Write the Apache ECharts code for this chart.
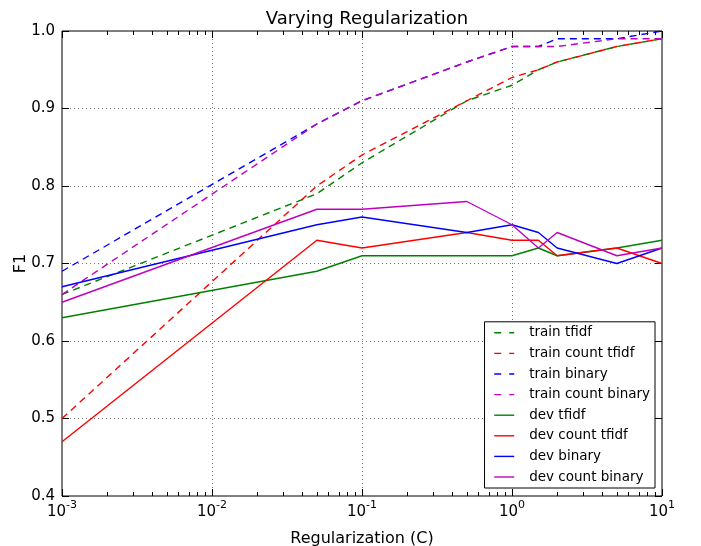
<!DOCTYPE html>
<html>
<head>
<meta charset="utf-8">
<script src="https://cdn.jsdelivr.net/npm/echarts@6/dist/echarts.min.js"></script>
<style>
  html, body { margin: 0; padding: 0; background: #fff; }
  #chart { width: 701px; height: 546px; }
</style>
</head>
<body>
<div id="chart"></div>
<script>
// regularization values (C) and F1 scores
var cValues = [0.001, 0.05, 0.1, 0.5, 1, 1.5, 2, 5, 10];

var trainTfidf       = [0.66, 0.79, 0.83, 0.91, 0.93, 0.95, 0.96, 0.98, 0.99];
var trainCountTfidf  = [0.50, 0.80, 0.84, 0.91, 0.94, 0.95, 0.96, 0.98, 0.99];
var trainBinary      = [0.69, 0.88, 0.91, 0.96, 0.98, 0.98, 0.99, 0.99, 1.00];
var trainCountBinary = [0.66, 0.88, 0.91, 0.96, 0.98, 0.98, 0.98, 0.99, 0.99];
var devTfidf         = [0.63, 0.69, 0.71, 0.71, 0.71, 0.72, 0.71, 0.72, 0.73];
var devCountTfidf    = [0.47, 0.73, 0.72, 0.74, 0.73, 0.73, 0.71, 0.72, 0.70];
var devBinary        = [0.67, 0.75, 0.76, 0.74, 0.75, 0.74, 0.72, 0.70, 0.72];
var devCountBinary   = [0.65, 0.77, 0.77, 0.78, 0.75, 0.72, 0.74, 0.71, 0.72];

var FONT = 'DejaVu Sans';
var DASH = [7, 5];

// minor ticks of the log axis (2..9 x 10^k), as exponents on a helper value axis
var minorExp = [];
for (var k = -3; k < 1; k++) {
  for (var m = 2; m < 10; m++) {
    minorExp.push(k + Math.log(m) / Math.LN10);
  }
}

function pairs(ys) {
  return cValues.map(function (c, i) { return [c, ys[i]]; });
}

function line(name, ys, color, dashed) {
  return {
    name: name,
    type: 'line',
    data: pairs(ys),
    symbol: 'none',
    xAxisIndex: 0,
    yAxisIndex: 0,
    lineStyle: { color: color, width: 1.4, type: dashed ? DASH : 'solid' },
    itemStyle: { color: color },
    animation: false
  };
}

function majorX(position) {
  return {
    type: 'log',
    logBase: 10,
    min: 0.001,
    max: 10,
    position: position,
    axisLine: { show: false, onZero: false },
    axisTick: { show: true, inside: true, length: 7, lineStyle: { color: '#000', width: 1 } },
    axisLabel: { show: false },
    splitLine: { show: false }
  };
}

function minorX(position) {
  return {
    type: 'value',
    min: -3,
    max: 1,
    position: position,
    axisLine: { show: false, onZero: false },
    axisTick: {
      show: true, inside: true, length: 4,
      customValues: minorExp,
      lineStyle: { color: '#000', width: 1 }
    },
    axisLabel: { show: false },
    splitLine: { show: false }
  };
}

var xMain = majorX('bottom');
xMain.name = 'Regularization (C)';
xMain.nameLocation = 'middle';
xMain.nameGap = 35;
xMain.nameTextStyle = { fontFamily: FONT, fontSize: 16, color: '#000' };
xMain.axisLabel = {
  show: true,
  margin: 4,
  formatter: function (v) {
    var e = Math.round(Math.log(v) / Math.LN10);
    return '{b|10}{sup|' + e + '}';
  },
  rich: {
    b: { fontFamily: FONT, fontSize: 15, color: '#000', lineHeight: 20, verticalAlign: 'bottom' },
    sup: { fontFamily: FONT, fontSize: 11, color: '#000', lineHeight: 20, verticalAlign: 'top' }
  }
};
xMain.splitLine = { show: true, lineStyle: { color: '#777', width: 1, type: [1, 3] } };

function yAxisBase(position) {
  return {
    type: 'value',
    min: 0.4,
    max: 1.0,
    interval: 0.1,
    position: position,
    axisLine: { show: false, onZero: false },
    axisTick: { show: true, inside: true, length: 7, lineStyle: { color: '#000', width: 1 } },
    axisLabel: { show: false },
    splitLine: { show: false }
  };
}

var yMain = yAxisBase('left');
yMain.name = 'F1';
yMain.nameLocation = 'middle';
yMain.nameGap = 33;
yMain.nameMoveOverlap = false;
yMain.nameTextStyle = { fontFamily: FONT, fontSize: 16, color: '#000' };
yMain.axisLabel = {
  show: true,
  margin: 7,
  fontFamily: FONT,
  fontSize: 15,
  color: '#000',
  formatter: function (v) { return v.toFixed(1); }
};
yMain.splitLine = { show: true, lineStyle: { color: '#777', width: 1, type: [1, 3] } };

var seriesDefs = [
  ['train tfidf', trainTfidf, '#008000', true],
  ['train count tfidf', trainCountTfidf, '#ff0000', true],
  ['train binary', trainBinary, '#0000ff', true],
  ['train count binary', trainCountBinary, '#bf00bf', true],
  ['dev tfidf', devTfidf, '#008000', false],
  ['dev count tfidf', devCountTfidf, '#ff0000', false],
  ['dev binary', devBinary, '#0000ff', false],
  ['dev count binary', devCountBinary, '#bf00bf', false]
];

var option = {
  backgroundColor: '#fff',
  animation: false,
  title: {
    text: 'Varying Regularization',
    left: 362,
    textAlign: 'center',
    top: 5,
    textStyle: { fontFamily: FONT, fontSize: 18, fontWeight: 'normal', color: '#000' }
  },
  grid: {
    left: 62,
    right: 39,
    top: 31,
    bottom: 50,
    outerBoundsMode: 'none',
    containLabel: false,
    show: true,
    borderColor: '#000',
    borderWidth: 1,
    backgroundColor: 'transparent'
  },
  legend: {
    orient: 'vertical',
    right: 46,
    bottom: 58,
    padding: [4, 5, 4, 9],
    itemWidth: 20,
    itemHeight: 14,
    itemGap: 6.6,
    backgroundColor: '#fff',
    borderColor: '#000',
    borderWidth: 1,
    borderRadius: 0,
    itemStyle: { opacity: 0, borderWidth: 0 },
    textStyle: { fontFamily: FONT, fontSize: 13.5, color: '#000', padding: [0, 0, 0, 10] },
    data: seriesDefs.map(function (d) {
      return {
        name: d[0],
        itemStyle: { opacity: 0, borderWidth: 0 },
        lineStyle: { color: d[2], width: 1.4, type: d[3] ? [7, 8] : 'solid' }
      };
    })
  },
  xAxis: [
    xMain,
    minorX('bottom'),
    majorX('top'),
    minorX('top')
  ],
  yAxis: [
    yMain,
    yAxisBase('right')
  ],
  series: seriesDefs.map(function (d) { return line(d[0], d[1], d[2], d[3]); })
};

var myChart = echarts.init(document.getElementById('chart'), null, { renderer: 'canvas' });
myChart.setOption(option);
</script>
</body>
</html>
